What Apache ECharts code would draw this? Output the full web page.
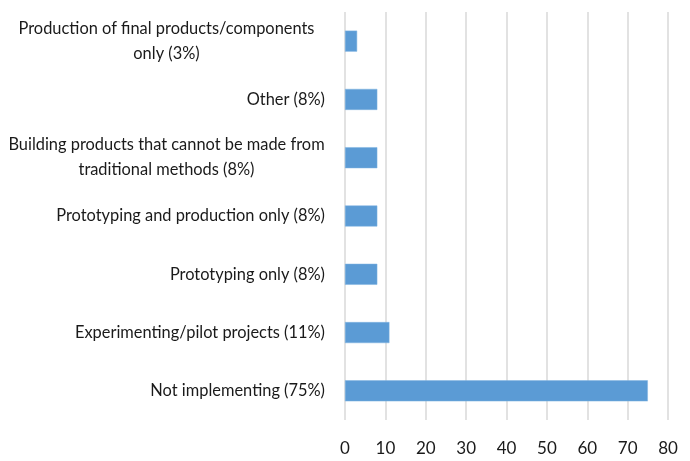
<!DOCTYPE html>
<html>
<head>
<meta charset="utf-8">
<script src="https://cdn.jsdelivr.net/npm/echarts@6/dist/echarts.min.js"></script>
<style>
  html, body { margin: 0; padding: 0; background: #fff; }
  #chart { width: 690px; height: 461px; }
</style>
</head>
<body>
<div id="chart"></div>
<script>
// Categories listed bottom-to-top (category axis order)
const categories = [
  'Not implementing (75%)',
  'Experimenting/pilot projects (11%)',
  'Prototyping only (8%)',
  'Prototyping and production only (8%)',
  'Building products that cannot be made from\ntraditional methods (8%)',
  'Other (8%)',
  'Production of final products/components\nonly (3%)'
];
const values = [75, 11, 8, 8, 8, 8, 3];
const xTicks = [0, 10, 20, 30, 40, 50, 60, 70, 80];

const FONT = '"Lato", "Noto Sans", sans-serif';
const LABEL_SIZE = 16.4;

const chart = echarts.init(document.getElementById('chart'), null, { renderer: 'canvas' });
chart.setOption({
  animation: false,
  backgroundColor: '#ffffff',
  grid: { left: 345, right: 22, top: 12, bottom: 41, containLabel: false },
  xAxis: {
    type: 'value',
    min: xTicks[0],
    max: xTicks[xTicks.length - 1],
    interval: 10,
    axisLine: { show: false },
    axisTick: { show: false },
    splitLine: { show: true, lineStyle: { color: '#d9d9d9', width: 1.5 } },
    axisLabel: { color: '#1a1a1a', fontSize: 17, fontFamily: FONT, margin: 20 }
  },
  yAxis: {
    type: 'category',
    data: categories,
    axisLine: { show: false },
    axisTick: { show: false },
    axisLabel: {
      color: '#1a1a1a',
      fontSize: LABEL_SIZE,
      fontFamily: FONT,
      margin: 20,
      lineHeight: 25,
      // two-line labels: each line centred within the block, block right-aligned
      formatter: function (v) {
        if (v.indexOf('\n') >= 0) {
          return v.split('\n').map(function (s) { return '{c|' + s + '}'; }).join('\n');
        }
        return v;
      },
      rich: {
        c: { width: 317, align: 'center', fontSize: LABEL_SIZE, fontFamily: FONT, color: '#1a1a1a', lineHeight: 25 }
      }
    }
  },
  series: [{
    type: 'bar',
    data: values,
    barWidth: 21,
    itemStyle: { color: '#5b9bd5', borderColor: '#7fb2e0', borderWidth: 0.5 }
  }]
});
</script>
</body>
</html>
